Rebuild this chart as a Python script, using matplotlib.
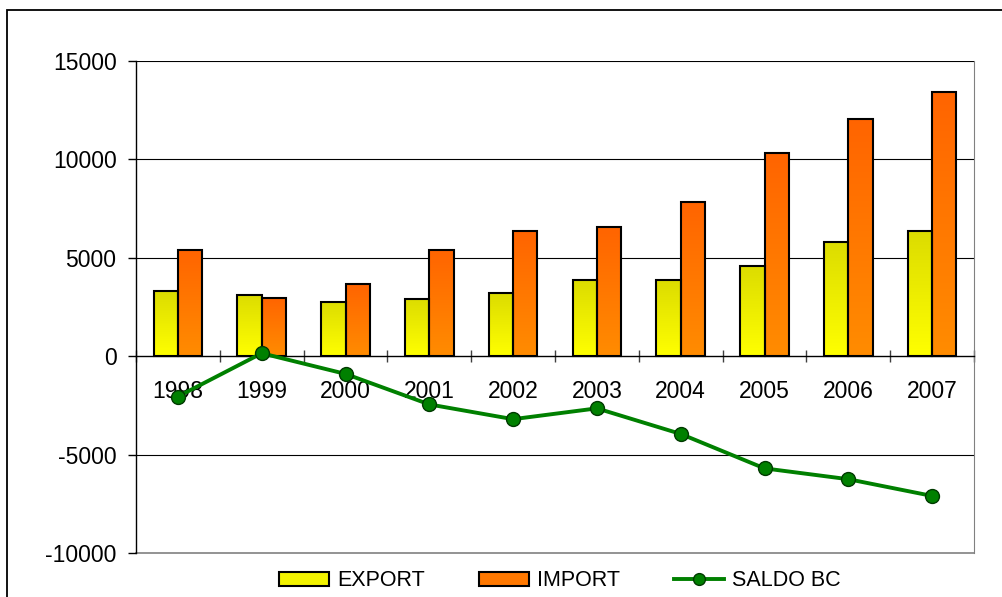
import numpy as np
import matplotlib.pyplot as plt
from matplotlib.colors import LinearSegmentedColormap
from matplotlib.patches import Rectangle, Patch
from matplotlib.lines import Line2D

plt.rcParams["font.family"] = ["Liberation Sans", "DejaVu Sans"]

# -----------------------------
# Data
# -----------------------------
years = ["1998", "1999", "2000", "2001", "2002", "2003", "2004", "2005", "2006", "2007"]
export_vals = [3300, 3100, 2750, 2900, 3200, 3850, 3850, 4600, 5800, 6350]
import_vals = [5400, 2980, 3650, 5400, 6350, 6550, 7850, 10350, 12050, 13450]
saldo_vals = [-2050, 150, -900, -2450, -3200, -2650, -3950, -5700, -6250, -7100]
y_ticks = [-10000, -5000, 0, 5000, 10000, 15000]

# gradients: (bottom colour, top colour)
exp_cmap = LinearSegmentedColormap.from_list("exp", ["#ffff00", "#dcdc00"])
imp_cmap = LinearSegmentedColormap.from_list("imp", ["#ff8c00", "#ff6400"])
green = "#008000"

fig = plt.figure(figsize=(10.02, 5.97), dpi=100)
ax = fig.add_axes([136 / 1002, 1 - 553 / 597, (974 - 136) / 1002, (553 - 61) / 597])

x = np.arange(len(years))
w = 0.29

bars_e = ax.bar(x - w / 2, export_vals, w, color="none", edgecolor="black", linewidth=1.5, zorder=4)
bars_i = ax.bar(x + w / 2, import_vals, w, color="none", edgecolor="black", linewidth=1.5, zorder=4)

grad = np.linspace(0, 1, 256).reshape(-1, 1)
for bars, cmap in ((bars_e, exp_cmap), (bars_i, imp_cmap)):
    for r in bars:
        x0, h = r.get_x(), r.get_height()
        ax.imshow(grad, cmap=cmap, extent=(x0, x0 + r.get_width(), 0, h),
                  origin="lower", aspect="auto", zorder=3, interpolation="bilinear")

ax.plot(x, saldo_vals, color=green, linewidth=2.8, marker="o", markersize=10,
        markerfacecolor=green, markeredgecolor="#003a00", markeredgewidth=1.0, zorder=6)

ax.set_xlim(-0.5, len(years) - 0.5)
ax.set_ylim(-10000, 15000)

# horizontal gridlines
for yv in y_ticks[1:]:
    if yv != 0:
        ax.axhline(yv, color="black", linewidth=0.8, zorder=1)

# zero line acts as the category axis
ax.spines["bottom"].set_position(("data", 0))
ax.spines["bottom"].set_color("black")
ax.spines["bottom"].set_linewidth(1.0)
ax.spines["bottom"].set_zorder(5)
ax.spines["top"].set_visible(False)
ax.spines["right"].set_color("#808080")
ax.spines["left"].set_linewidth(1.0)
ax.axhline(-10000, color="#808080", linewidth=1.2, clip_on=False, zorder=1)

ax.set_xticks(np.arange(len(years) + 1) - 0.5)
ax.set_xticklabels([])
ax.tick_params(axis="x", which="major", direction="inout", length=9, width=1.0, color="#404040")
ax.set_xticks(x, minor=True)
ax.set_xticklabels(years, minor=True, fontsize=16.5)
ax.tick_params(axis="x", which="minor", length=0, pad=17)

ax.set_yticks(y_ticks)
ax.set_yticklabels([str(v) for v in y_ticks], fontsize=16.5)
ax.tick_params(axis="y", direction="out", length=6, width=1.0, pad=8)

# legend
handles = [
    Patch(facecolor="#f2f200", edgecolor="black", linewidth=1.5, label="EXPORT"),
    Patch(facecolor="#ff7800", edgecolor="black", linewidth=1.5, label="IMPORT"),
    Line2D([0], [0], color=green, linewidth=2.8, marker="o", markersize=8.5,
           markerfacecolor=green, markeredgecolor="#003a00", label="SALDO BC"),
]
fig.legend(handles=handles, loc="center", bbox_to_anchor=(0.559, 1 - 581 / 597), ncol=3,
           frameon=False, fontsize=15.5, handlelength=2.3, handleheight=0.6,
           handletextpad=0.4, columnspacing=2.5, borderpad=0)

# outer chart frame (runs off the right and bottom of the image)
fig.add_artist(Rectangle((7 / 1002, -0.2), 1.2, 1.2 - 10 / 597, transform=fig.transFigure,
                         fill=False, edgecolor="black", linewidth=1.3))

fig.savefig("out.png", dpi=100)
